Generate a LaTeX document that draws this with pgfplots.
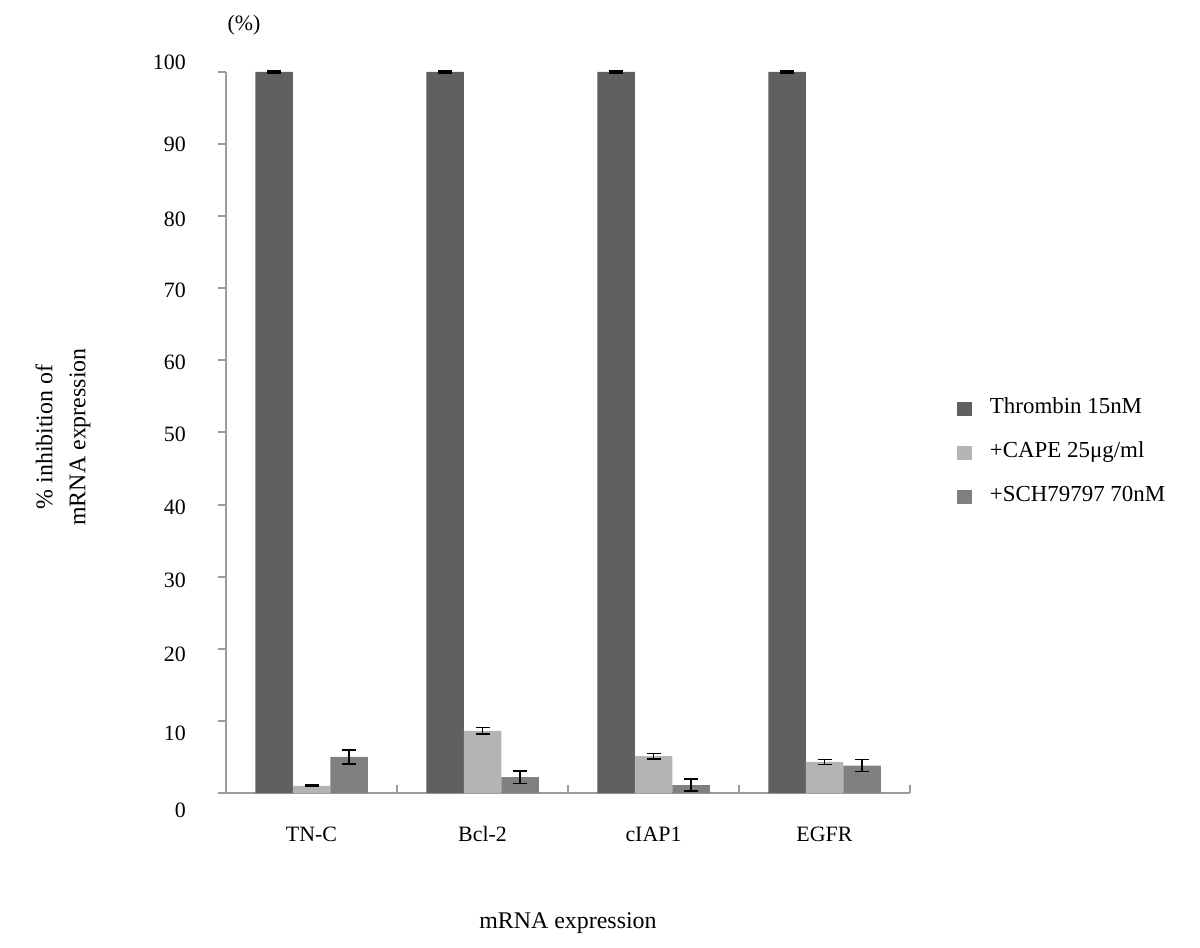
\documentclass[border=0pt]{standalone}
\usepackage{pgfplots}
\pgfplotsset{compat=1.18}
\usepackage{pgfplotstable}
\usepackage{fontspec}
\setmainfont{Liberation Serif}
\definecolor{cDark}{RGB}{96,96,96}
\definecolor{cLight}{RGB}{180,180,180}
\definecolor{cMed}{RGB}{128,128,128}
\definecolor{axgray}{RGB}{155,155,155}
\newcommand{\rl}[2]{\raisebox{#1}[\height][\depth]{#2}}
\newcommand{\fs}{\fontsize{22}{26}\selectfont}
\newcommand{\fl}{\fontsize{24}{33}\selectfont}
\pgfplotstableread{
x y e
0 100 0.15
1 100 0.15
2 100 0.15
3 100 0.15
}\thrombin
\pgfplotstableread{
x y e
0 1.0 0.1
1 8.6 0.45
2 5.1 0.4
3 4.3 0.35
}\cape
\pgfplotstableread{
x y e
0 5.0 0.95
1 2.2 0.88
2 1.1 0.85
3 3.8 0.85
}\sch
\pgfplotsset{sqlegend/.style={legend image code/.code={\fill[##1] (0bp,-7bp) rectangle (15bp,7bp);}}}
\begin{document}
\begin{tikzpicture}
\useasboundingbox (0,0) rectangle (1200bp,948bp);
\begin{axis}[
  at={(226bp,155bp)}, anchor=south west,
  scale only axis, width=684bp, height=721bp,
  xmin=-0.5, xmax=3.5, ymin=0, ymax=100,
  separate axis lines,
  axis x line=bottom, axis y line=left,
  axis line style={draw=axgray, line width=1.8bp, -},
  ybar=0pt, bar width=37.5bp,
  xtick={0.5,1.5,2.5,3.5}, xticklabels={TN-C,Bcl-2,cIAP1,EGFR},
  ytick={0,10,...,100},
  yticklabels={{\rl{-17bp}{0}},{\rl{-12bp}{10}},{\rl{-6bp}{20}},{\rl{-4bp}{30}},{\rl{-3bp}{40}},{\rl{-2bp}{50}},{\rl{-2bp}{60}},{\rl{-2bp}{70}},{\rl{-3bp}{80}},{\rl{0bp}{90}},{\rl{9.5bp}{100}}},
  every tick/.style={draw=axgray, line width=2bp},
  xtick align=inside, ytick align=outside,
  major tick length=8bp,
  /pgf/number format/assume math mode=true,
  ticklabel style={font=\fs},
  yticklabel style={anchor=east, inner sep=0pt, xshift=-32bp},
  xticklabel style={anchor=base, inner sep=0pt, yshift=-48bp, xshift=-85.5bp},
  xlabel={mRNA expression},
  xlabel style={at={(axis description cs:0.5,0)}, anchor=base, inner sep=0pt, yshift=-135bp, font=\fl},
  ylabel={\% inhibition of\\mRNA expression},
  ylabel style={at={(axis description cs:-0.2383,0.4938)}, anchor=center, align=center, inner sep=0pt, font=\fl},
  legend style={at={(axis description cs:1.0687,0.4716)}, anchor=west, draw=none, fill=none, inner sep=0pt, outer sep=0pt, row sep=24bp, font=\fontsize{23}{27}\selectfont, nodes={inner sep=0pt, text height=15bp, text depth=5bp}, /tikz/every odd column/.append style={column sep=18bp}},
  legend cell align=left,
  clip=false,
]
\addplot[fill=cDark, draw=none, bar shift=-37.5bp, sqlegend,
  error bars/.cd, y dir=both, y explicit,
  error bar style={black, line width=1.5bp},
  error mark options={black, rotate=90, mark size=7bp, line width=1.5bp}]
  table[x=x, y=y, y error=e]{\thrombin};
\addplot[fill=cLight, draw=none, bar shift=0bp, sqlegend,
  error bars/.cd, y dir=both, y explicit,
  error bar style={black, line width=1.5bp},
  error mark options={black, rotate=90, mark size=7bp, line width=1.5bp}]
  table[x=x, y=y, y error=e]{\cape};
\addplot[fill=cMed, draw=none, bar shift=37.5bp, sqlegend,
  error bars/.cd, y dir=both, y explicit,
  error bar style={black, line width=1.5bp},
  error mark options={black, rotate=90, mark size=7bp, line width=1.5bp}]
  table[x=x, y=y, y error=e]{\sch};
\legend{Thrombin 15nM, +CAPE 25μg/ml, +SCH79797 70nM}
\node[font=\fs, inner sep=0pt] at (axis description cs:0.0263,1.0652) {(\%)};
\end{axis}
\end{tikzpicture}
\end{document}
